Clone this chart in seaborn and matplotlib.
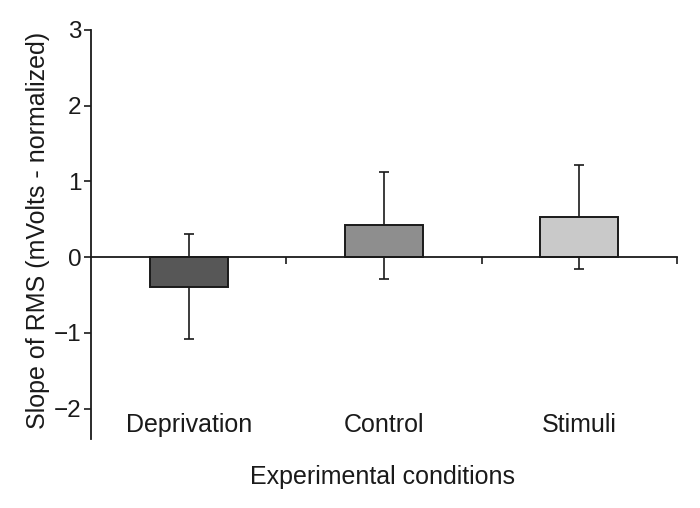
import matplotlib
matplotlib.use("Agg")
import matplotlib.pyplot as plt
import matplotlib.transforms as mtransforms
import seaborn as sns
import pandas as pd

conditions = ["Deprivation", "Control", "Stimuli"]
slope_mean = [-0.39, 0.42, 0.53]
slope_sd = [0.69, 0.71, 0.69]
bar_colors = ["#575757", "#8e8e8e", "#c9c9c9"]

df = pd.DataFrame({"condition": conditions, "slope": slope_mean, "sd": slope_sd})

sns.set_style("ticks")
plt.rcParams["font.family"] = ["Liberation Sans", "DejaVu Sans"]

fig, ax = plt.subplots(figsize=(7, 5.08), dpi=100)
plt.subplots_adjust(left=0.13, right=0.967, bottom=0.136, top=0.941)

# error bars first so the bars cover the inner half
ax.errorbar(range(len(conditions)), df["slope"], yerr=df["sd"], fmt="none",
            ecolor="#1a1a1a", elinewidth=1.2, capsize=3.5, capthick=1.2, zorder=0.5)

sns.barplot(data=df, x="condition", y="slope", hue="condition", palette=bar_colors,
            width=0.4, edgecolor="#1a1a1a", linewidth=1.4, legend=False, ax=ax,
            errorbar=None, zorder=2)

ax.set_xlim(-0.5, 2.5)
ax.set_ylim(-2.4, 3)
ax.set_yticks([-2, -1, 0, 1, 2, 3])
ax.set_yticklabels(["\u22122", "\u22121", "0", "1", "2", "3"])

# x axis drawn at zero with ticks between categories
ax.spines["bottom"].set_position(("data", 0))
ax.spines["bottom"].set_color("#1a1a1a")
ax.spines["bottom"].set_linewidth(1.3)
ax.spines["bottom"].set_zorder(3)
ax.spines["left"].set_color("#1a1a1a")
ax.spines["left"].set_linewidth(1.3)
sns.despine(ax=ax)
ax.set_xticks([0.5, 1.5, 2.5])
ax.set_xticklabels([])
ax.tick_params(axis="x", direction="out", length=5, width=1.2, color="#1a1a1a")
ax.tick_params(axis="y", direction="out", length=5, width=1.2, color="#1a1a1a",
               labelsize=17.5, pad=2, labelcolor="#1a1a1a")

trans = mtransforms.blended_transform_factory(ax.transData, ax.transAxes)
for i, name in enumerate(conditions):
    ax.text(i, 0.035, name, transform=trans, ha="center", va="center",
            fontsize=18, color="#1a1a1a")

ax.set_xlabel("")
ax.set_ylabel("Slope of RMS (mVolts - normalized)", fontsize=18, color="#1a1a1a")
ax.yaxis.set_label_coords(-0.07, 0.51)
fig.text(0.547, 0.061, "Experimental conditions", ha="center", va="center",
         fontsize=18, color="#1a1a1a")

fig.savefig("out.png", dpi=100, facecolor="white")
